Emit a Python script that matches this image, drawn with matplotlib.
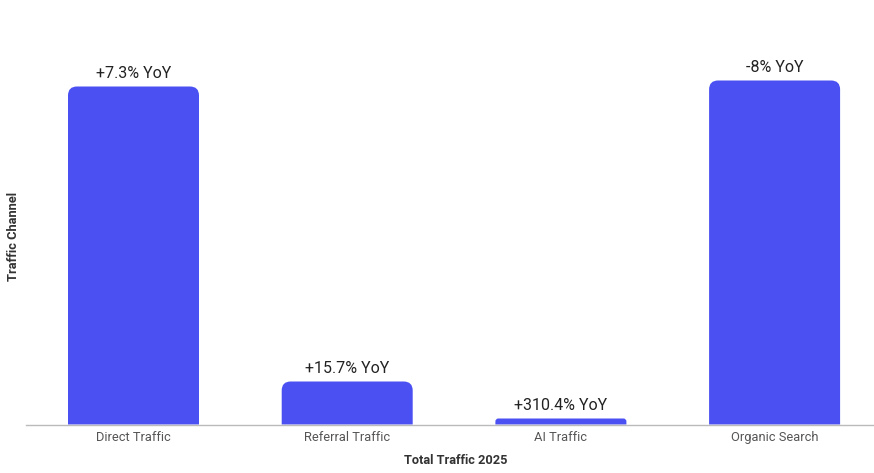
import matplotlib
matplotlib.use("Agg")
import matplotlib.pyplot as plt
from matplotlib.patches import PathPatch
from matplotlib.path import Path

# data (bar heights, relative units)
channels = ["Direct Traffic", "Referral Traffic", "AI Traffic", "Organic Search"]
traffic = [338, 43, 6, 344]
yoy_labels = ["+7.3% YoY", "+15.7% YoY", "+310.4% YoY", "-8% YoY"]

BAR_COLOR = "#4a50f2"


def top_rounded_bar(x, w, h, rx, ry):
  # bar path with only the two top corners rounded (quadratic corners)
  ry = min(ry, h)
  verts = [(x, 0), (x, h - ry), (x, h), (x + rx, h),
           (x + w - rx, h), (x + w, h), (x + w, h - ry),
           (x + w, 0), (x, 0)]
  codes = [Path.MOVETO, Path.LINETO, Path.CURVE3, Path.CURVE3,
           Path.LINETO, Path.CURVE3, Path.CURVE3,
           Path.LINETO, Path.CLOSEPOLY]
  return Path(verts, codes)


def main():
  plt.rcParams["font.family"] = ["Roboto", "DejaVu Sans"]

  fig = plt.figure(figsize=(8.74, 4.73), dpi=100)
  W, H = 874, 473
  left, right, bottom, top = 26, 874, 424.5, 30
  ax = fig.add_axes([left / W, (H - bottom) / H, (right - left) / W, (bottom - top) / H])

  step = 213.7  # px between bar centres
  x0 = -(133.5 - left) / step
  ax.set_xlim(x0, x0 + (right - left) / step)
  ax.set_ylim(0, bottom - top)

  width = 131 / step
  r_px = 9
  for i, h in enumerate(traffic):
    r = min(r_px, h / 2)
    path = top_rounded_bar(i - width / 2, width, h, r / step, r)
    ax.add_patch(PathPatch(path, fc=BAR_COLOR, ec="none"))
    ax.text(i, h + 6, yoy_labels[i], ha="center", va="bottom", fontsize=11.5, color="#222222")

  ax.set_xticks(range(len(channels)))
  ax.set_xticklabels(channels, fontsize=9.3, color="#555555")
  ax.tick_params(axis="x", length=0, pad=5)
  ax.set_yticks([])

  for s in ["top", "right", "left"]:
    ax.spines[s].set_visible(False)
  ax.spines["bottom"].set_color("#bbbbbb")
  ax.spines["bottom"].set_linewidth(1)

  ax.set_xlabel("Total Traffic 2025", fontsize=9.2, fontweight="bold", color="#333333")
  ax.xaxis.set_label_coords((456 - left) / (right - left), -(454 - bottom) / (bottom - top))
  ax.set_ylabel("Traffic Channel", fontsize=9.3, fontweight="bold", color="#333333")
  ax.yaxis.set_label_coords(-(left - 20) / (right - left), (bottom - 236) / (bottom - top))

  fig.savefig("out.png", dpi=100)


if __name__ == "__main__":

  main()
